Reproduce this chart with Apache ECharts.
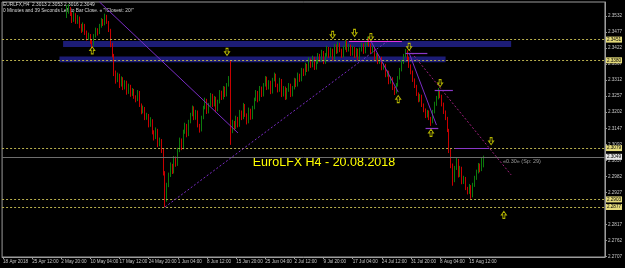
<!DOCTYPE html>
<html><head><meta charset="utf-8">
<script src="https://cdn.jsdelivr.net/npm/echarts@6/dist/echarts.min.js"></script>
<style>html,body{margin:0;padding:0;background:#000;}#c{width:625px;height:268px;}</style>
</head><body><div id="c"></div><script>
// ---------- data ----------
const slotCount = 331;      // 2 H4 bars per slot
const firstSlot = 35;       // first visible candle slot
// [open, close, low, high]
const candles = [
[2.3536,2.3546,2.3525,2.3570],[2.3546,2.3560,2.3540,2.3573],[2.3560,2.3539,2.3532,2.3563],[2.3539,2.3518,2.3508,2.3545],[2.3518,2.3536,2.3512,2.3546],
[2.3536,2.3512,2.3505,2.3542],[2.3512,2.3525,2.3505,2.3535],[2.3525,2.3498,2.3490,2.3530],[2.3498,2.3484,2.3474,2.3505],[2.3484,2.3501,2.3478,2.3510],
[2.3501,2.3477,2.3467,2.3505],[2.3477,2.3457,2.3448,2.3482],[2.3457,2.3467,2.3450,2.3475],[2.3467,2.3443,2.3436,2.3470],[2.3443,2.3436,2.3420,2.3450],
[2.3436,2.3464,2.3430,2.3470],[2.3464,2.3484,2.3458,2.3492],[2.3484,2.3474,2.3465,2.3490],[2.3474,2.3498,2.3470,2.3505],[2.3498,2.3518,2.3492,2.3525],
[2.3518,2.3505,2.3498,2.3522],[2.3505,2.3532,2.3500,2.3540],[2.3532,2.3512,2.3505,2.3536],[2.3512,2.3484,2.3477,2.3515],[2.3484,2.3433,2.3425,2.3488],
[2.3433,2.3398,2.3390,2.3440],[2.3398,2.3340,2.3326,2.3402],[2.3340,2.3313,2.3300,2.3345],[2.3313,2.3330,2.3305,2.3338],[2.3330,2.3295,2.3285,2.3334],
[2.3295,2.3319,2.3290,2.3325],[2.3319,2.3285,2.3278,2.3322],[2.3285,2.3306,2.3280,2.3312],[2.3306,2.3271,2.3262,2.3310],[2.3271,2.3292,2.3265,2.3300],
[2.3292,2.3265,2.3255,2.3296],[2.3265,2.3278,2.3258,2.3285],[2.3278,2.3254,2.3248,2.3282],[2.3254,2.3244,2.3236,2.3260],[2.3244,2.3271,2.3240,2.3278],
[2.3271,2.3227,2.3220,2.3275],[2.3227,2.3203,2.3195,2.3232],[2.3203,2.3217,2.3198,2.3225],[2.3217,2.3182,2.3175,2.3220],[2.3182,2.3193,2.3176,2.3200],
[2.3193,2.3158,2.3150,2.3196],[2.3158,2.3175,2.3152,2.3185],[2.3175,2.3134,2.3126,2.3178],[2.3134,2.3114,2.3105,2.3140],[2.3114,2.3141,2.3110,2.3150],
[2.3141,2.3090,2.3082,2.3145],[2.3090,2.3107,2.3085,2.3115],[2.3107,2.3072,2.3062,2.3110],[2.3072,2.2997,2.2985,2.3078],[2.2997,2.2901,2.2877,2.3000],
[2.2901,2.2952,2.2895,2.2960],[2.2952,2.2987,2.2945,2.2995],[2.2987,2.3021,2.2980,2.3030],[2.3021,2.2997,2.2990,2.3025],[2.2997,2.3045,2.2992,2.3052],
[2.3045,2.3021,2.3015,2.3050],[2.3021,2.3072,2.3018,2.3080],[2.3072,2.3107,2.3065,2.3115],[2.3107,2.3079,2.3072,2.3112],[2.3079,2.3134,2.3075,2.3142],
[2.3134,2.3158,2.3128,2.3166],[2.3158,2.3124,2.3116,2.3162],[2.3124,2.3169,2.3120,2.3176],[2.3169,2.3193,2.3164,2.3200],[2.3193,2.3217,2.3188,2.3225],
[2.3217,2.3182,2.3175,2.3222],[2.3182,2.3203,2.3176,2.3210],[2.3203,2.3158,2.3150,2.3208],[2.3158,2.3141,2.3132,2.3162],[2.3141,2.3182,2.3136,2.3190],
[2.3182,2.3217,2.3178,2.3224],[2.3217,2.3244,2.3212,2.3252],[2.3244,2.3203,2.3196,2.3248],[2.3203,2.3227,2.3198,2.3234],[2.3227,2.3261,2.3222,2.3268],
[2.3261,2.3227,2.3220,2.3265],[2.3227,2.3251,2.3222,2.3258],[2.3251,2.3210,2.3202,2.3255],[2.3210,2.3237,2.3205,2.3245],[2.3237,2.3271,2.3232,2.3278],
[2.3271,2.3251,2.3244,2.3276],[2.3251,2.3285,2.3246,2.3292],[2.3285,2.3261,2.3254,2.3290],[2.3261,2.3295,2.3256,2.3302],[2.3295,2.3319,2.3290,2.3326],
[2.3319,2.3141,2.3090,2.3381],[2.3141,2.3169,2.3130,2.3176],[2.3169,2.3148,2.3140,2.3172],[2.3148,2.3182,2.3144,2.3190],[2.3182,2.3158,2.3150,2.3186],
[2.3158,2.3203,2.3152,2.3210],[2.3203,2.3182,2.3175,2.3208],[2.3182,2.3227,2.3178,2.3234],[2.3227,2.3193,2.3186,2.3230],[2.3193,2.3169,2.3160,2.3198],
[2.3169,2.3210,2.3164,2.3218],[2.3210,2.3182,2.3176,2.3214],[2.3182,2.3217,2.3178,2.3224],[2.3217,2.3244,2.3212,2.3252],[2.3244,2.3271,2.3240,2.3278],
[2.3271,2.3244,2.3236,2.3275],[2.3244,2.3285,2.3240,2.3292],[2.3285,2.3261,2.3254,2.3290],[2.3261,2.3295,2.3256,2.3302],[2.3295,2.3319,2.3290,2.3326],
[2.3319,2.3285,2.3278,2.3324],[2.3285,2.3306,2.3280,2.3312],[2.3306,2.3271,2.3264,2.3310],[2.3271,2.3313,2.3266,2.3320],[2.3313,2.3330,2.3308,2.3338],
[2.3330,2.3295,2.3288,2.3334],[2.3295,2.3278,2.3270,2.3300],[2.3278,2.3313,2.3272,2.3320],[2.3313,2.3261,2.3254,2.3316],[2.3261,2.3285,2.3256,2.3292],
[2.3285,2.3251,2.3244,2.3290],[2.3251,2.3278,2.3246,2.3285],[2.3278,2.3295,2.3272,2.3302],[2.3295,2.3261,2.3254,2.3300],[2.3261,2.3285,2.3256,2.3292],
[2.3285,2.3313,2.3280,2.3320],[2.3313,2.3295,2.3288,2.3318],[2.3295,2.3330,2.3290,2.3338],[2.3330,2.3313,2.3306,2.3334],[2.3313,2.3347,2.3308,2.3354],
[2.3347,2.3333,2.3326,2.3352],[2.3333,2.3364,2.3328,2.3372],[2.3364,2.3347,2.3340,2.3368],[2.3347,2.3381,2.3342,2.3390],[2.3381,2.3361,2.3354,2.3386],
[2.3361,2.3388,2.3356,2.3396],[2.3388,2.3354,2.3347,2.3392],[2.3354,2.3374,2.3348,2.3382],[2.3374,2.3398,2.3368,2.3405],[2.3398,2.3381,2.3374,2.3402],
[2.3381,2.3409,2.3376,2.3416],[2.3409,2.3374,2.3367,2.3412],[2.3374,2.3398,2.3368,2.3405],[2.3398,2.3422,2.3392,2.3430],[2.3422,2.3395,2.3388,2.3426],
[2.3395,2.3416,2.3390,2.3424],[2.3416,2.3388,2.3380,2.3420],[2.3388,2.3429,2.3382,2.3436],[2.3429,2.3409,2.3402,2.3434],[2.3409,2.3436,2.3404,2.3444],
[2.3436,2.3416,2.3408,2.3440],[2.3416,2.3395,2.3388,2.3420],[2.3395,2.3422,2.3390,2.3430],[2.3422,2.3443,2.3416,2.3450],[2.3443,2.3416,2.3408,2.3448],
[2.3416,2.3429,2.3410,2.3436],[2.3429,2.3402,2.3395,2.3434],[2.3402,2.3422,2.3396,2.3430],[2.3422,2.3395,2.3388,2.3426],[2.3395,2.3416,2.3390,2.3422],
[2.3416,2.3388,2.3380,2.3420],[2.3388,2.3416,2.3382,2.3424],[2.3416,2.3433,2.3410,2.3440],[2.3433,2.3409,2.3402,2.3438],[2.3409,2.3436,2.3404,2.3444],
[2.3436,2.3450,2.3430,2.3460],[2.3450,2.3433,2.3426,2.3456],[2.3433,2.3409,2.3402,2.3438],[2.3409,2.3422,2.3404,2.3430],[2.3422,2.3388,2.3380,2.3426],
[2.3388,2.3398,2.3382,2.3405],[2.3398,2.3374,2.3367,2.3402],[2.3374,2.3388,2.3368,2.3395],[2.3388,2.3354,2.3346,2.3392],[2.3354,2.3364,2.3348,2.3370],
[2.3364,2.3330,2.3322,2.3368],[2.3330,2.3340,2.3324,2.3346],[2.3340,2.3306,2.3298,2.3344],[2.3306,2.3319,2.3300,2.3326],[2.3319,2.3285,2.3278,2.3322],
[2.3285,2.3271,2.3261,2.3290],[2.3271,2.3295,2.3266,2.3302],[2.3295,2.3319,2.3290,2.3326],[2.3319,2.3347,2.3314,2.3354],[2.3347,2.3374,2.3342,2.3382],
[2.3374,2.3395,2.3368,2.3402],[2.3395,2.3409,2.3390,2.3419],[2.3409,2.3388,2.3380,2.3414],[2.3388,2.3361,2.3354,2.3392],[2.3361,2.3340,2.3332,2.3366],
[2.3340,2.3313,2.3306,2.3345],[2.3313,2.3292,2.3285,2.3318],[2.3292,2.3265,2.3258,2.3296],[2.3265,2.3244,2.3236,2.3270],[2.3244,2.3258,2.3238,2.3265],
[2.3258,2.3227,2.3220,2.3262],[2.3227,2.3210,2.3202,2.3232],[2.3210,2.3189,2.3182,2.3215],[2.3189,2.3203,2.3184,2.3210],[2.3203,2.3182,2.3175,2.3208],
[2.3182,2.3169,2.3155,2.3186],[2.3169,2.3203,2.3164,2.3210],[2.3203,2.3230,2.3198,2.3238],[2.3230,2.3251,2.3224,2.3258],[2.3251,2.3268,2.3246,2.3285],
[2.3268,2.3258,2.3250,2.3275],[2.3258,2.3230,2.3222,2.3262],[2.3230,2.3203,2.3196,2.3235],[2.3203,2.3182,2.3175,2.3208],[2.3182,2.3141,2.3134,2.3186],
[2.3141,2.3072,2.3062,2.3145],[2.3072,2.3021,2.3010,2.3078],[2.3021,2.2970,2.2950,2.3026],[2.2970,2.3011,2.2962,2.3018],[2.3011,2.3038,2.3004,2.3045],
[2.3038,2.2987,2.2978,2.3042],[2.2987,2.3011,2.2980,2.3018],[2.3011,2.2963,2.2955,2.3015],[2.2963,2.2976,2.2956,2.2984],[2.2976,2.2942,2.2935,2.2980],
[2.2942,2.2928,2.2920,2.2946],[2.2928,2.2949,2.2922,2.2956],[2.2949,2.2915,2.2905,2.2952],[2.2915,2.2952,2.2910,2.2960],[2.2952,2.2976,2.2946,2.2984],
[2.2976,2.2997,2.2970,2.3005],[2.2997,2.3021,2.2992,2.3028],[2.3021,2.3004,2.2996,2.3026],[2.3004,2.3038,2.3000,2.3046],[2.3038,2.3049,2.3013,2.3053]
];
const timeLabels = ["18 Apr 2018","25 Apr 12:00","2 May 20:00","10 May 04:00","17 May 12:00","24 May 20:00","1 Jun 04:00","8 Jun 12:00","15 Jun 20:00","25 Jun 04:00","2 Jul 12:00","9 Jul 20:00","17 Jul 04:00","24 Jul 12:00","31 Jul 20:00","8 Aug 04:00","15 Aug 12:00"];
const priceTicks = [2.2707,2.2762,2.2817,2.2872,2.2927,2.2982,2.3037,2.3092,2.3147,2.3202,2.3257,2.3312,2.3367,2.3422,2.3477,2.3532];
const levels = [2.3451,2.3380,2.3079,2.2903,2.2877];
const lastPrice = 2.3049;
// [slotFrom, slotTo, priceLow, priceHigh]
const zones = [[33,279,2.3426,2.3446],[31,243,2.3373,2.3393]];
// [slot1, price1, slot2, price2]
const solidTrends = [[53,2.3580,129,2.3131],[202,2.3446,217,2.3271],[223,2.3405,238,2.3158]];
const dottedTrends = [[89,2.2877,212,2.3450]];
const dottedTrends2 = [[223,2.3416,279,2.2987]];
// [slotFrom, slotTo, price]
const shortLevels = [[190,219,2.3447],[221,233,2.3404],[237,247,2.3276],[232,239,2.3148],[248,267,2.3078]];
const upArrows = [[49,2.3414],[217,2.3247],[235,2.3131],[275,2.2850]];
const downArrows = [[123,2.3409],[181,2.3467],[193,2.3474],[202,2.3460],[223,2.3426],[240,2.3302],[268,2.3103]];

// ---------- build ----------
const slots = [];
for (let i = 0; i < slotCount; i++) slots.push(String(i));
const candleData = slots.map(() => '-');
candles.forEach((c, k) => { candleData[firstSlot + k] = c; });

const lblFont = 'Liberation Sans';
const markLines = [];
levels.forEach(v => markLines.push({
  yAxis: v,
  lineStyle: {color: '#b9b04e', type: [2, 2], width: 1},
  label: {show: true, position: 'end', formatter: v.toFixed(4), backgroundColor: '#e4da7a', color: '#000',
          fontSize: 4.6, fontFamily: lblFont, padding: [1, 1, 0, 1], distance: 1}
}));
markLines.push({
  yAxis: lastPrice,
  lineStyle: {color: '#6e6e6e', type: 'solid', width: 1},
  label: {show: true, position: 'end', formatter: lastPrice.toFixed(4), backgroundColor: '#e8e8e8', color: '#000',
          fontSize: 4.6, fontFamily: lblFont, padding: [1, 1, 0, 1], distance: 1}
});
solidTrends.forEach(t => markLines.push([
  {coord: [t[0], t[1]], lineStyle: {color: '#7a2cc4', type: 'solid', width: 1}, label: {show: false}},
  {coord: [t[2], t[3]]}
]));
dottedTrends.forEach(t => markLines.push([
  {coord: [t[0], t[1]], lineStyle: {color: '#7a2cc4', type: [2, 2], width: 1}, label: {show: false}},
  {coord: [t[2], t[3]]}
]));
dottedTrends2.forEach(t => markLines.push([
  {coord: [t[0], t[1]], lineStyle: {color: '#a0207e', type: [2, 2], width: 1}, label: {show: false}},
  {coord: [t[2], t[3]]}
]));
shortLevels.forEach((s, k) => markLines.push([
  {coord: [s[0], s[2]], lineStyle: {color: k === 0 ? '#e030e0' : '#8a38c8', type: 'solid', width: 1.2}, label: {show: false}},
  {coord: [s[1], s[2]]}
]));

const upPath = 'path://M5 0 L10 5 L7 5 L7 10 L3 10 L3 5 L0 5 Z';
const downPath = 'path://M3 0 L7 0 L7 5 L10 5 L5 10 L0 5 L3 5 Z';
const arrowStyle = {color: '#000', borderColor: '#e0e000', borderWidth: 1};

const chart = echarts.init(document.getElementById('c'), null, {renderer: 'canvas'});
chart.setOption({
  backgroundColor: '#000',
  animation: false,
  grid: {left: 2, right: 18, top: 2, bottom: 11, show: true, borderColor: '#9c9c9c', borderWidth: 1},
  xAxis: {
    type: 'category', data: slots, boundaryGap: true,
    axisLine: {lineStyle: {color: '#9c9c9c'}},
    axisTick: {show: true, length: 2, alignWithLabel: true,
      interval: (i) => i % 16 === 0 && i / 16 < timeLabels.length, lineStyle: {color: '#9c9c9c'}},
    axisLabel: {interval: (i) => i % 16 === 0 && i / 16 < timeLabels.length,
      formatter: (v, i) => timeLabels[i / 16] || '', align: 'left', color: '#c8c8c8',
      fontSize: 4.6, fontFamily: lblFont, margin: 2},
    splitLine: {show: false}
  },
  yAxis: {
    type: 'value', position: 'right', min: 2.27055, max: 2.3580,
    axisLine: {show: true, lineStyle: {color: '#9c9c9c'}},
    axisTick: {show: true, length: 2, customValues: priceTicks, lineStyle: {color: '#9c9c9c'}},
    axisLabel: {customValues: priceTicks, formatter: (v) => v.toFixed(4), color: '#c8c8c8',
      fontSize: 4.6, fontFamily: lblFont, margin: 3},
    splitLine: {show: false}
  },
  series: [
    {
      type: 'candlestick', data: candleData, barWidth: 1.3,
      itemStyle: {color: '#0c7a0c', color0: '#c80000', borderColor: '#0c7a0c', borderColor0: '#c80000', borderWidth: 1},
      markArea: {silent: true, itemStyle: {color: '#1c1c76', opacity: 1},
        data: zones.map(z => [{coord: [z[0], z[3]]}, {coord: [z[1], z[2]]}])},
      markLine: {silent: true, precision: 4, symbol: ['none', 'none'], animation: false, data: markLines}
    },
    {type: 'scatter', symbol: upPath, symbolSize: [5, 7], data: upArrows, itemStyle: arrowStyle, z: 5, silent: true},
    {type: 'scatter', symbol: downPath, symbolSize: [5, 7], data: downArrows, itemStyle: arrowStyle, z: 5, silent: true}
  ],
  graphic: [
    {type: 'text', left: 3, top: 2, style: {text: 'EURLFX,H4  2.3013 2.3053 2.3016 2.3049', fill: '#d8d8d8', font: '4.8px "Liberation Sans"'}},
    {type: 'text', left: 3, top: 8.5, style: {text: '0 Minutes and 39 Seconds Left to Bar Close. « "!Closest: 20!"', fill: '#d8d8d8', font: '4.8px "Liberation Sans"'}},
    {type: 'text', x: 324, y: 163, style: {text: 'EuroLFX H4 - 20.08.2018', fill: '#ffff00', font: '12.5px "Liberation Sans"', align: 'center', verticalAlign: 'middle'}},
    {type: 'text', x: 503, y: 161, style: {text: '«0.30» (Sp: 29)', fill: '#9a9a9a', font: '5.5px "Liberation Sans"', verticalAlign: 'middle'}}
  ]
});
</script></body></html>
